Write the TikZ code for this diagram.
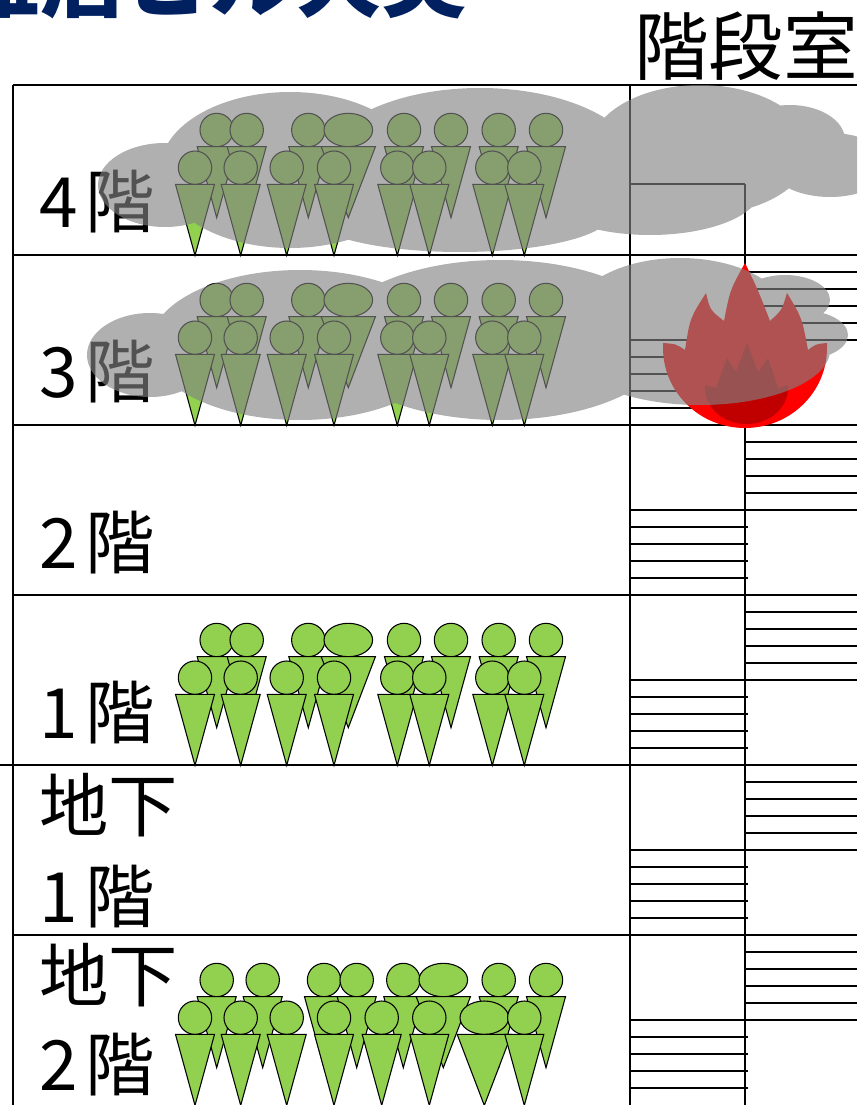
\documentclass[tikz,border=0pt]{standalone}
\usepackage{fontspec}
\setmainfont{Noto Sans CJK JP}
\usepackage{tikz}
\definecolor{navy}{RGB}{0,32,96}
\definecolor{green}{RGB}{146,208,80}
\definecolor{smoke}{RGB}{130,130,130}
\definecolor{red}{RGB}{255,0,0}
\definecolor{darkred}{RGB}{192,0,0}

% one person: head centre x, head centre y, head x radius
\newcommand{\hito}[3]{%
  \draw[person] (#1,#2) ellipse [x radius=#3, y radius=16.7];
  \draw[person] (#1-#3-2.8,#2+16.7) -- (#1+#3+2.8,#2+16.7) -- (#1,#2+87.7) -- cycle;}
% the usual crowd standing on the floor at y=#1
\newcommand{\crowd}[1]{%
  \foreach \x/\r in {216.7/16.7,246.7/16.7,308.3/16.7,348.3/24.3,404/16.7,451/16.7,498.7/16.7,546/16.7}
    {\hito{\x}{#1-125}{\r}}
  \foreach \x/\r in {195/16.7,240.7/16.7,286.7/16.7,334/16.7,397.3/16.7,429.3/16.7,492.3/16.7,524.3/16.7}
    {\hito{\x}{#1-87.3}{\r}}}
% floor number followed by 階
\newcommand{\kai}[1]{#1\kern6pt 階}

\begin{document}
\begin{tikzpicture}[x=0.75pt,y=0.75pt,yscale=-1,xscale=1,
  person/.style={fill=green,draw=black,line width=0.8},
  wall/.style={draw=black,line width=0.9},
  tread/.style={draw=black,line width=0.8},
  lbl/.style={inner sep=0.75pt,font=\fontsize{52}{60}\selectfont},
  cloud/.style={fill=smoke,fill opacity=0.63}]
\useasboundingbox (0,0) rectangle (857,1105);
\clip (0,0) rectangle (857,1105);

%Straight Lines: building outline and floors
\draw[wall] (13,85) -- (857,85);
\draw[wall] (13,85) -- (13,1105);
\foreach \y in {255,425,595,765,935}
  \draw[wall] (13,\y) -- (857,\y);
\draw[line width=2.2] (0,765) -- (13,765);

%Straight Lines: stair well
\draw[wall] (630,85) -- (630,1105);
\draw[wall] (630,184) -- (745,184);
\draw[line width=1.6] (745,184) -- (745,1105);
\foreach \t in {255,425,595,765,935}{
  \foreach \k in {1,...,5}
    \draw[tread] (745,\t+17*\k) -- (857,\t+17*\k);
  \foreach \k in {0,...,4}
    \draw[tread] (630,\t+85+17*\k) -- (748,\t+85+17*\k);
}

% Text Node
\node[lbl,anchor=base east,text=navy,font=\fontsize{64}{72}\selectfont\bfseries] (title) at (468,11) {雑居ビル火災};
% Text Node
\node[lbl,font=\fontsize{56}{64}\selectfont] (kaidan) at (746,46) {階段室};
% Text Node
\node[lbl,anchor=west] (f4) at (38,202) {\kai{4}};
\node[lbl,anchor=west] (f3) at (38,372) {\kai{3}};
\node[lbl,anchor=west] (f2) at (38,543) {\kai{2}};
\node[lbl,anchor=west] (f1) at (38,713) {\kai{1}};
\node[lbl,anchor=west] (b1a) at (38,805) {地下};
\node[lbl,anchor=west] (b1b) at (38,897) {\kai{1}};
\node[lbl,anchor=west] (b2a) at (38,975) {地下};
\node[lbl,anchor=west] (b2b) at (38,1065) {\kai{2}};

%Shape: people on 4F, 3F, 1F
\crowd{255}
\crowd{425}
\crowd{765}
%Shape: people on B2F
\foreach \x/\r in {216.7/16.7,262.7/16.7,324/16.7,356.7/16.7,403.3/16.7,443.3/24.3,498.7/16.7,546/16.7}
  {\hito{\x}{980}{\r}}
\foreach \x/\r in {195/16.7,240.7/16.7,286.7/16.7,334/16.7,381.7/16.7,429.3/16.7,484.3/24.3,524.3/16.7}
  {\hito{\x}{1017.7}{\r}}

%Shape: fire in the stair well
\fill[red] (663,343) .. controls (676,344) .. (685,350) .. controls (690,318) .. (706,293) .. controls (710,310) .. (724,321)
  .. controls (730,290) .. (745,263) .. controls (758,290) .. (770,321) .. controls (782,310) .. (787,293)
  .. controls (802,318) .. (808,350) .. controls (816,344) .. (827,343) -- (827,348)
  arc [start angle=0, end angle=180, x radius=82, y radius=80] -- cycle;
\fill[darkred] (705,385) -- (716,388) -- (727,358) -- (736,372) -- (747,343) -- (758,372) -- (768,358) -- (778,388) -- (788,385) -- (788,388)
  arc [start angle=0, end angle=180, x radius=41.5, y radius=36] -- cycle;

%Shape: smoke on 4F
\fill[cloud] (165,185) ellipse [x radius=67, y radius=42]
  (290,170) ellipse [x radius=130, y radius=78]
  (480,168) ellipse [x radius=160, y radius=80]
  (460,215) ellipse [x radius=150, y radius=37]
  (700,150) ellipse [x radius=110, y radius=65]
  (790,140) ellipse [x radius=55, y radius=35]
  (830,165) ellipse [x radius=60, y radius=32]
  (650,190) ellipse [x radius=110, y radius=45];
%Shape: smoke on 3F
\fill[cloud] (150,355) ellipse [x radius=63, y radius=42]
  (300,345) ellipse [x radius=150, y radius=75]
  (500,340) ellipse [x radius=170, y radius=80]
  (680,320) ellipse [x radius=110, y radius=62]
  (785,300) ellipse [x radius=45, y radius=25]
  (800,335) ellipse [x radius=48, y radius=25]
  (700,350) ellipse [x radius=130, y radius=55];

\end{tikzpicture}
\end{document}
